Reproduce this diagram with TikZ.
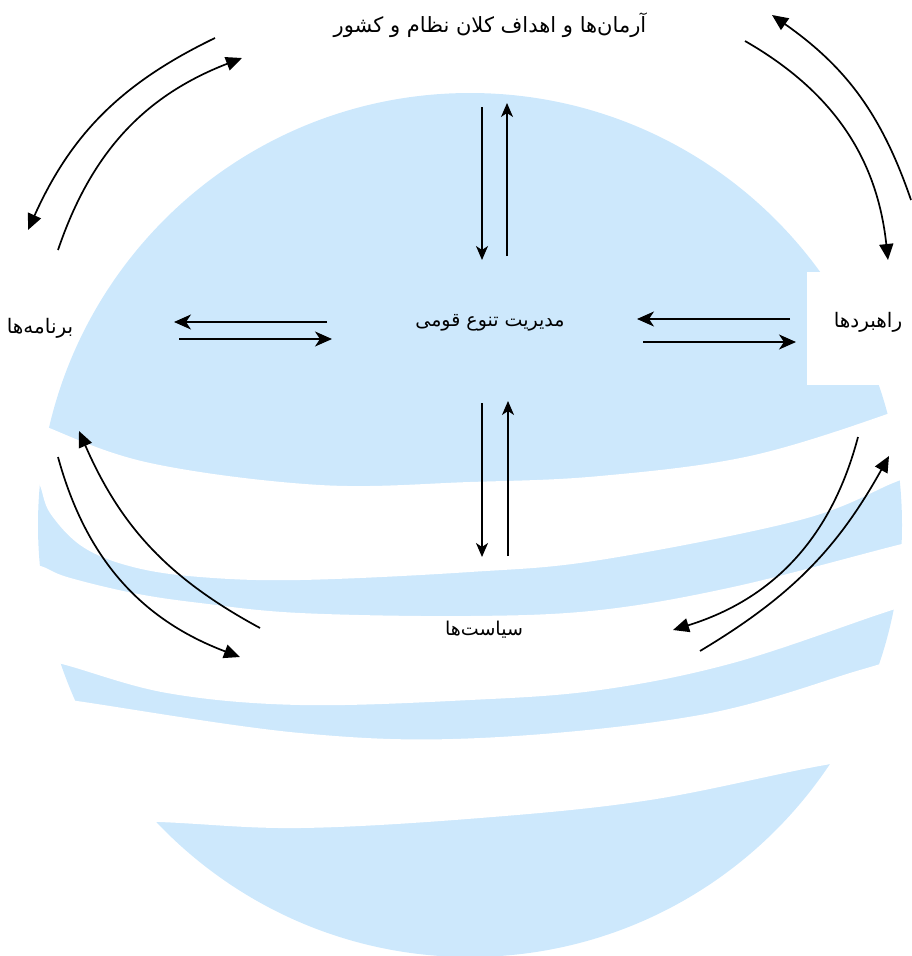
\documentclass[tikz,border=0pt]{standalone}
\usepackage{fontspec}
\usetikzlibrary{arrows.meta}
\TeXXeTstate=1
\newfontfamily\arabicfont[Script=Arabic]{DejaVu Sans}
\definecolor{globe}{RGB}{205,232,252}
\begin{document}
\begin{tikzpicture}[x=1pt,y=-1pt,
  lbl/.style={font=\arabicfont\fontsize{19}{23}\selectfont, inner sep=0pt},
  carr/.style={line width=1.7pt, -{Triangle[length=16pt,width=14pt]}},
  harr/.style={line width=1.7pt, -{Stealth[length=17pt,width=15pt,inset=5pt]}},
  varr/.style={line width=1.6pt, -{Stealth[length=14pt,width=12pt,inset=4pt]}}]
\useasboundingbox (0,0) rectangle (911,956);
% globe background
\fill[globe] (470,525) circle[radius=432];
\fill[white] plot[smooth,tension=0.6] coordinates {(-10,400) (42,425) (150,463) (320,485) (470,482) (600,476) (750,456) (893,412) (925,395)}
  -- plot[smooth,tension=0.6] coordinates {(925,470) (893,483) (800,520) (600,560) (470,572) (300,580) (200,577) (133,567) (83,547) (50,513) (38,482) (20,475) (-10,475)} -- cycle;
\fill[white] plot[smooth,tension=0.6] coordinates {(-10,558) (37,565) (67,577) (133,593) (200,603) (300,613) (470,616) (600,610) (733,587) (890,547) (925,538)}
  -- plot[smooth,tension=0.6] coordinates {(925,600) (883,613) (733,663) (600,690) (470,700) (300,705) (167,693) (58,663) (-10,650)} -- cycle;
\fill[white] plot[smooth,tension=0.6] coordinates {(-10,690) (70,700) (300,733) (480,738) (700,715) (860,670) (925,650)}
  -- plot[smooth,tension=0.6] coordinates {(925,752) (825,765) (650,800) (480,818) (300,828) (160,822) (-10,815)} -- cycle;
% white box
\node[fill=white, minimum width=104, minimum height=113, inner sep=0pt] (rbox) at (859,328) {};
% labels
\node[lbl, font=\arabicfont\fontsize{21}{25}\selectfont] (top) at (490,25) {\beginR آرمان‌ها و اهداف کلان نظام و کشور\endR};
\node[lbl] (center) at (490,323) {\beginR مدیریت تنوع قومی\endR};
\node[lbl, font=\arabicfont\fontsize{20}{24}\selectfont] (left) at (40,328) {\beginR برنامه‌ها\endR};
\node[lbl, font=\arabicfont\fontsize{20}{24}\selectfont] (right) at (868,322) {\beginR راهبردها\endR};
\node[lbl] (bottom) at (484,630) {\beginR سیاست‌ها\endR};
% arrow end points
\coordinate (v1s) at (482,107); \coordinate (v1e) at (482,260);
\coordinate (v2s) at (507,256); \coordinate (v2e) at (507,103);
\coordinate (v3s) at (482,403); \coordinate (v3e) at (482,557);
\coordinate (v4s) at (508,556); \coordinate (v4e) at (508,401);
\coordinate (h1s) at (327,322); \coordinate (h1e) at (174,322);
\coordinate (h2s) at (179,339); \coordinate (h2e) at (332,339);
\coordinate (h3s) at (790,319); \coordinate (h3e) at (637,319);
\coordinate (h4s) at (643,342); \coordinate (h4e) at (796,342);
\coordinate (a1s) at (215,38);  \coordinate (a1e) at (28,230);
\coordinate (a2s) at (58,250);  \coordinate (a2e) at (242,58);
\coordinate (a3s) at (745,41);  \coordinate (a3e) at (888,260);
\coordinate (a4s) at (911,200); \coordinate (a4e) at (772,15);
\coordinate (a5s) at (58,457);  \coordinate (a5e) at (240,657);
\coordinate (a6s) at (260,628); \coordinate (a6e) at (79,431);
\coordinate (a7s) at (858,437); \coordinate (a7e) at (673,630);
\coordinate (a8s) at (700,651); \coordinate (a8e) at (889,456);
% straight arrows
\draw[varr] (v1s) -- (v1e);
\draw[varr] (v2s) -- (v2e);
\draw[varr] (v3s) -- (v3e);
\draw[varr] (v4s) -- (v4e);
\draw[harr] (h1s) -- (h1e);
\draw[harr] (h2s) -- (h2e);
\draw[harr] (h3s) -- (h3e);
\draw[harr] (h4s) -- (h4e);
% curved arrows
\draw[carr] (a1s) to[bend right=20] (a1e);
\draw[carr] (a2s) to[bend left=25] (a2e);
\draw[carr] (a3s) to[bend left=27] (a3e);
\draw[carr] (a4s) to[bend right=18] (a4e);
\draw[carr] (a5s) to[bend right=27] (a5e);
\draw[carr] (a6s) to[bend left=19] (a6e);
\draw[carr] (a7s) to[bend left=29] (a7e);
\draw[carr] (a8s) to[bend right=15] (a8e);
\end{tikzpicture}
\end{document}
